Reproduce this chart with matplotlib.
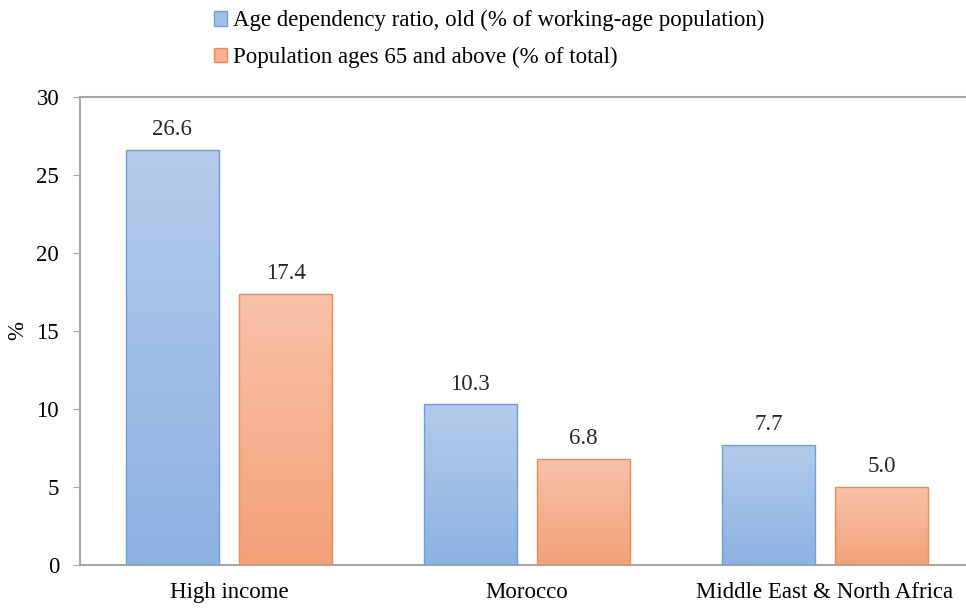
import numpy as np
import matplotlib
matplotlib.use('Agg')
import matplotlib.pyplot as plt
from matplotlib.colors import LinearSegmentedColormap
from matplotlib.patches import Patch

plt.rcParams['font.family'] = ['Liberation Serif', 'DejaVu Serif']

# data
categories = ['High income', 'Morocco', 'Middle East & North Africa']
old_dependency = [26.6, 10.3, 7.7]
pop_65_plus = [17.4, 6.8, 5.0]
series_names = ['Age dependency ratio, old (% of working-age population)',
                'Population ages 65 and above (% of total)']

fig = plt.figure(figsize=(9.66, 6.08), dpi=100)
ax = fig.add_axes([80/966, 1 - 565/608, 894/966, 468/608])

x = np.arange(len(categories))
w = 0.312
off = 0.19
fs = 16.5

blue_cmap = LinearSegmentedColormap.from_list('b', ['#8db3e2', '#b3cbea'])
orange_cmap = LinearSegmentedColormap.from_list('o', ['#f4a179', '#f8c1a9'])
grad = np.linspace(0, 1, 256).reshape(-1, 1)


def grad_bars(xs, vals, cmap, edge):
    bars = ax.bar(xs, vals, w, color='none', edgecolor=edge, linewidth=1.0, zorder=3)
    for b in bars:
        x0, y0 = b.get_x(), b.get_y()
        im = ax.imshow(grad, cmap=cmap, origin='lower', aspect='auto',
                       extent=[x0, x0 + b.get_width(), y0, y0 + b.get_height()],
                       zorder=2)
        im.set_clip_path(b)
    for b, v in zip(bars, vals):
        ax.text(b.get_x() + b.get_width() / 2, v + 0.62, f'{v:.1f}',
                ha='center', va='bottom', fontsize=fs, color='#262626')
    return bars


grad_bars(x - off, old_dependency, blue_cmap, '#6c9fd6')
grad_bars(x + off, pop_65_plus, orange_cmap, '#ef8b52')

ax.set_xlim(-0.5, 2.5)
ax.set_ylim(0, 30)
ax.set_yticks(range(0, 31, 5))
ax.set_xticks(x)
ax.set_xticklabels(categories, fontsize=fs)
ax.tick_params(axis='y', labelsize=fs, length=5, color='#a6a6a6', pad=10)
ax.tick_params(axis='x', length=0, pad=12)
for s in ax.spines.values():
    s.set_color('#a6a6a6')
    s.set_linewidth(1.5)

# y label placed by hand so it stays inside the figure
fig.text(18/966, 1 - 331/608, '%', rotation=90, fontsize=fs,
         ha='center', va='center')

handles = [Patch(facecolor='#a3c0e6', edgecolor='#6c9fd6'),
           Patch(facecolor='#f6b293', edgecolor='#ef8b52')]
fig.legend(handles, series_names, loc='upper left',
           bbox_to_anchor=(193/966, 1.017), frameon=False, fontsize=fs,
           handlelength=0.6, handleheight=0.6, handletextpad=0.25,
           labelspacing=0.68)

fig.savefig('out.png', dpi=100)
